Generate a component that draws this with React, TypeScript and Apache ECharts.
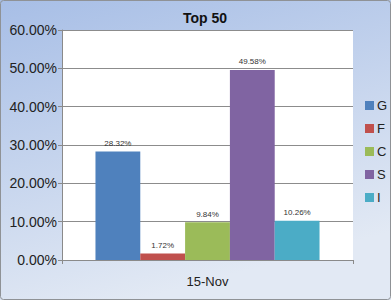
import React, { useEffect, useRef } from "react";
import * as echarts from "echarts";

const categories = ["15-Nov"];
const seriesNames = ["G", "F", "C", "S", "I"];
const seriesValues = [[0.2832], [0.0172], [0.0984], [0.4958], [0.1026]];
const seriesColors = ["#4F81BD", "#C0504D", "#9BBB59", "#8064A2", "#4BACC6"];
const title = "Top 50";

export default function App() {
  const ref = useRef<HTMLDivElement>(null);
  useEffect(() => {
    if (!ref.current) return;
    const chart = echarts.init(ref.current, null, { renderer: "svg" });
    const font = "'Liberation Sans', Arial, sans-serif";
    chart.setOption({
      animation: false,
      backgroundColor: new echarts.graphic.LinearGradient(0, 0, 0.35, 1, [
        { offset: 0, color: "#a7bee6" },
        { offset: 1, color: "#e2e9f4" },
      ]),
      title: {
        text: title,
        left: 200,
        top: 6,
        textAlign: "center",
        textStyle: { fontFamily: font, fontSize: 14, fontWeight: "bold", color: "#111" },
      },
      graphic: [
        {
          type: "rect",
          shape: { x: 0.5, y: 0.5, width: 390, height: 299, r: 3 },
          style: { fill: "none", stroke: "#8f9296", lineWidth: 1 },
          silent: true,
        },
      ],
      legend: {
        orient: "vertical",
        left: 360,
        top: 94,
        itemWidth: 9,
        itemHeight: 9,
        itemGap: 10,
        icon: "rect",
        textStyle: { fontFamily: font, fontSize: 13, color: "#222", padding: [0, 0, 0, -2] },
        data: seriesNames,
      },
      grid: {
        left: 62,
        top: 30,
        width: 291,
        height: 230,
        show: true,
        backgroundColor: "#ffffff",
        borderWidth: 0,
      },
      xAxis: {
        type: "category",
        data: categories,
        axisLine: { lineStyle: { color: "#8a8a8a" } },
        axisTick: { show: true, length: 4, lineStyle: { color: "#8a8a8a" } },
        axisLabel: { fontFamily: font, fontSize: 13, color: "#222", margin: 15 },
      },
      yAxis: {
        type: "value",
        min: 0,
        max: 0.6,
        interval: 0.1,
        axisLine: { show: true, lineStyle: { color: "#8a8a8a" } },
        axisTick: { show: true, length: 4, lineStyle: { color: "#8a8a8a" } },
        splitLine: { lineStyle: { color: "#8c8c8c" } },
        axisLabel: {
          fontFamily: font,
          fontSize: 14,
          color: "#222",
          margin: 5,
          formatter: (v: number) => (v * 100).toFixed(2) + "%",
        },
      },
      series: seriesNames.map((name, i) => ({
        name,
        type: "bar",
        data: seriesValues[i],
        barGap: "0%",
        barCategoryGap: "23%",
        itemStyle: { color: seriesColors[i] },
        label: {
          show: true,
          position: "top",
          distance: 4,
          fontFamily: font,
          fontSize: 8,
          color: "#333",
          formatter: (p: any) => (p.value * 100).toFixed(2) + "%",
        },
      })),
    });
    return () => chart.dispose();
  }, []);
  return (
    <div
      ref={ref}
      style={{ position: "fixed", left: 0, top: 0, width: 391, height: 300 }}
    />
  );
}
